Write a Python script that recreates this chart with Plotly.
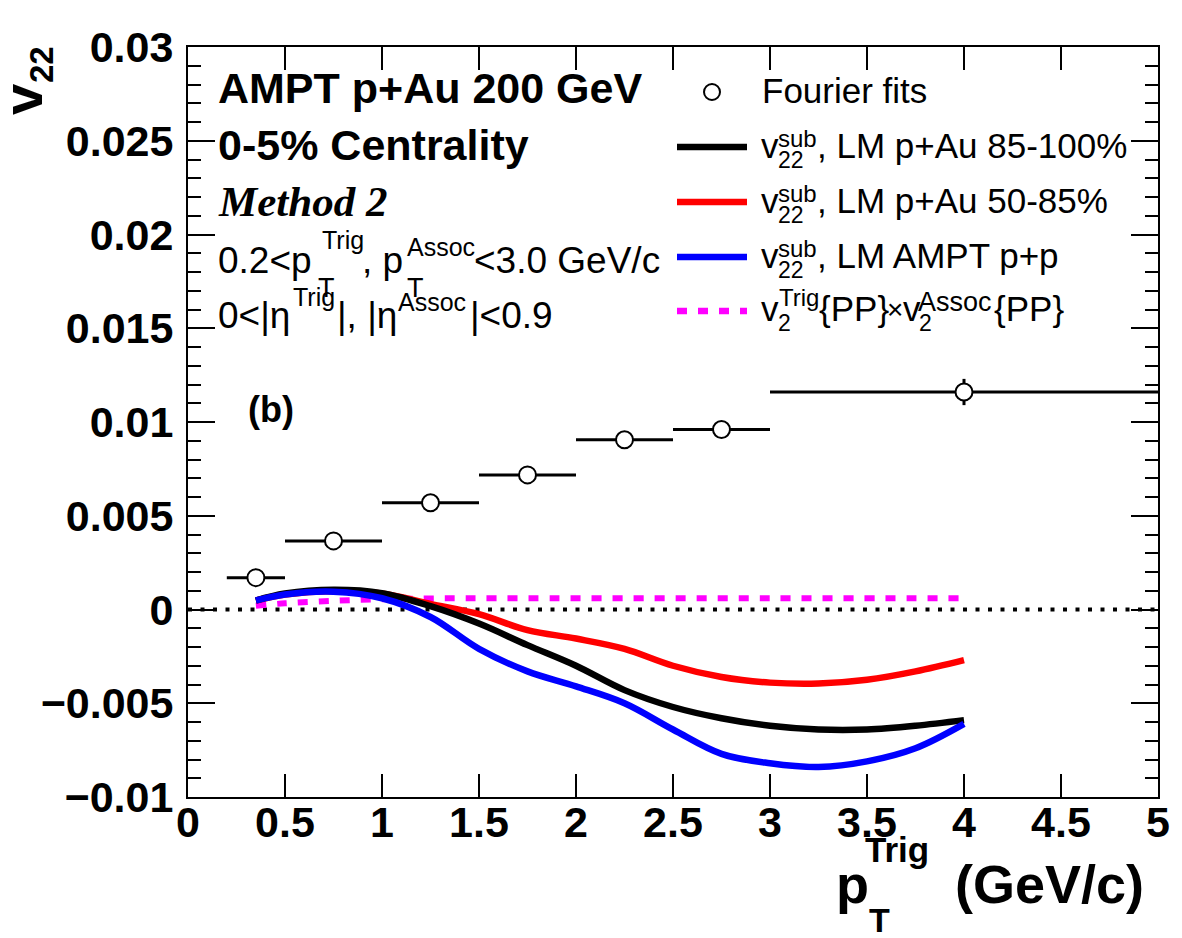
import plotly.graph_objects as go

# ---------------- data ----------------
fit_x = [0.35, 0.75, 1.25, 1.75, 2.25, 2.75, 4.0]
fit_y = [0.0017, 0.00366, 0.00569, 0.00718, 0.00905, 0.0096, 0.0116]
fit_xlo = [0.2, 0.5, 1.0, 1.5, 2.0, 2.5, 3.0]
fit_xhi = [0.5, 1.0, 1.5, 2.0, 2.5, 3.0, 5.0]
fit_yerr = [0.0, 0.0, 0.0, 0.0, 0.0, 0.0, 0.0007]

curve_x = [0.35, 0.5, 0.75, 1.0, 1.25, 1.5, 1.75, 2.0, 2.25, 2.5, 2.75, 3.0, 3.25, 3.5, 3.75, 4.0]
lm_8500 = [0.00048, 0.00085, 0.00105, 0.00087, 0.00018, -0.00075, -0.0019, -0.0030, -0.0043,
           -0.0052, -0.0058, -0.0062, -0.0064, -0.0064, -0.0062, -0.0059]
lm_5085 = [0.00048, 0.0008, 0.00099, 0.00085, 0.0003, -0.00025, -0.0011, -0.00155, -0.0021,
           -0.0030, -0.0036, -0.0039, -0.00395, -0.00375, -0.0033, -0.0027]
lm_pp = [0.00048, 0.0008, 0.00095, 0.0006, -0.0004, -0.0021, -0.0033, -0.0041, -0.0050,
         -0.0064, -0.0077, -0.0082, -0.0084, -0.0081, -0.0074, -0.0061]
pp_x = [0.35, 0.5, 0.75, 1.0, 1.25, 1.5, 2.0, 3.0, 4.0]
pp_y = [0.0002, 0.00033, 0.00046, 0.00055, 0.00059, 0.0006, 0.0006, 0.0006, 0.0006]
zero_x = [0, 5]
zero_y = [0, 0]

x_tickvals = [0, 0.5, 1, 1.5, 2, 2.5, 3, 3.5, 4, 4.5, 5]
x_ticktext = ["0", "0.5", "1", "1.5", "2", "2.5", "3", "3.5", "4", "4.5", "5"]
y_tickvals = [-0.01, -0.005, 0, 0.005, 0.01, 0.015, 0.02, 0.025, 0.03]
y_ticktext = ["\u22120.01", "\u22120.005", "0", "0.005", "0.01", "0.015", "0.02", "0.025", "0.03"]

# ---------------- figure ----------------
W, H = 1182, 938
L, R, T, B = 188, 1158, 47, 797
SANS = "Liberation Sans"
SERIF = "Liberation Serif"

fig = go.Figure()

fig.add_trace(go.Scatter(x=zero_x, y=zero_y, mode="lines",
                         line=dict(color="black", width=4, dash="4px,8.5px"), hoverinfo="skip"))
fig.add_trace(go.Scatter(x=pp_x, y=pp_y, mode="lines", line_shape="spline",
                         line=dict(color="#ff00ff", width=6, dash="10px,11px")))
fig.add_trace(go.Scatter(x=curve_x, y=lm_5085, mode="lines", line_shape="spline",
                         line=dict(color="#ff0000", width=6.5)))
fig.add_trace(go.Scatter(x=curve_x, y=lm_8500, mode="lines", line_shape="spline",
                         line=dict(color="black", width=6.5)))
fig.add_trace(go.Scatter(x=curve_x, y=lm_pp, mode="lines", line_shape="spline",
                         line=dict(color="#0000ff", width=6.5)))

fig.add_trace(go.Scatter(
    x=fit_x, y=fit_y, mode="markers",
    marker=dict(symbol="circle", size=17, color="white", line=dict(color="black", width=2)),
    error_x=dict(type="data", symmetric=False,
                 array=[h - c for h, c in zip(fit_xhi, fit_x)],
                 arrayminus=[c - l for l, c in zip(fit_xlo, fit_x)],
                 color="black", thickness=3, width=0),
    error_y=dict(type="data", array=fit_yerr, color="black", thickness=3, width=0),
))


def pxx(x):
    return (x - L) / (R - L)


def pxy(y):
    return (B - y) / (B - T)


ann = []


def txt(s, x, base, size, family=SANS, bold=False, italic=False, angle=0, xanchor="left"):
    ann.append(dict(text=s, x=pxx(x), y=pxy(base - 0.35 * size), xref="paper", yref="paper",
                    xanchor=xanchor, yanchor="middle", showarrow=False, textangle=angle,
                    font=dict(family=family, size=size, color="black",
                              weight="bold" if bold else "normal",
                              style="italic" if italic else "normal")))


# top-left block
txt("AMPT p+Au 200 GeV", 216, 103, 43, bold=True)
txt("0-5% Centrality", 216, 160, 43, bold=True)
txt("Method 2", 216, 217, 43, family=SERIF, bold=True, italic=True)

txt("0.2<p", 216, 273, 37)
txt("Trig", 320, 249, 25)
txt("T", 316, 297, 27)
txt(", p", 360, 273, 37)
txt("Assoc", 405, 256, 25)
txt("T", 405, 297, 27)
txt("<3.0 GeV/c", 472, 273, 37)

txt("0<|\u03b7", 216, 328, 37)
txt("Trig", 291, 306, 25)
txt("|, |\u03b7", 335, 328, 37)
txt("Assoc", 396, 311, 25)
txt("|<0.9", 468, 328, 37)

txt("(b)", 246, 422, 36, bold=True)

# legend
txt("Fourier fits", 760, 103, 35)
leg = [("black", 158, ", LM p+Au 85-100%"),
       ("#ff0000", 213, ", LM p+Au 50-85%"),
       ("#0000ff", 268, ", LM AMPT p+p")]
for col, base, label in leg:
    txt("v", 759, base, 35)
    txt("sub", 776, base - 11, 24)
    txt("22", 776, base + 10, 23)
    txt(label, 815, base, 35)
base5 = 321
txt("v", 759, base5, 35)
txt("Trig", 777, base5 - 15, 24)
txt("2", 776, base5 + 10, 23)
txt("{PP}", 817, base5, 35)
txt("\u00d7", 885, base5 - 2, 28)
txt("v", 901, base5, 35)
txt("Assoc", 916, base5 - 10, 27)
txt("2", 917, base5 + 10, 23)
txt("{PP}", 992, base5, 35)

# axis titles
ann.append(dict(text="v", x=pxx(22), y=pxy(100), xref="paper", yref="paper", xanchor="center",
                yanchor="middle", showarrow=False, textangle=-90,
                font=dict(family=SANS, size=56, color="black", weight="bold")))
ann.append(dict(text="22", x=pxx(41), y=pxy(65), xref="paper", yref="paper", xanchor="center",
                yanchor="middle", showarrow=False, textangle=-90,
                font=dict(family=SANS, size=33, color="black", weight="bold")))
txt("p", 834, 903, 54, bold=True)
txt("Trig", 863, 862, 35, bold=True)
txt("T", 867, 932, 34, bold=True)
txt("(GeV/c)", 953, 903, 54, bold=True)

shapes = []
shapes.append(dict(type="circle", xref="paper", yref="paper",
                   x0=pxx(704), x1=pxx(720), y0=pxy(100), y1=pxy(84),
                   line=dict(color="black", width=2), fillcolor="white"))
for col, yy, dash in [("black", 147, "solid"), ("#ff0000", 202, "solid"),
                      ("#0000ff", 257, "solid"), ("#ff00ff", 311, "10px,11px")]:
    shapes.append(dict(type="line", xref="paper", yref="paper",
                       x0=pxx(677), x1=pxx(747), y0=pxy(yy), y1=pxy(yy),
                       line=dict(color=col, width=6.5, dash=dash)))

fig.update_layout(
    width=W, height=H,
    margin=dict(l=L, r=W - R, t=T, b=H - B, pad=0),
    paper_bgcolor="white", plot_bgcolor="white",
    showlegend=False,
    annotations=ann, shapes=shapes,
    xaxis=dict(range=[0, 5], tickmode="array", tickvals=x_tickvals, ticktext=x_ticktext,
               ticks="inside", ticklen=23, tickwidth=2, tickcolor="black",
               showline=True, linewidth=2, linecolor="black", mirror="allticks",
               showgrid=False, zeroline=False, ticklabelstandoff=-14,
               tickfont=dict(family=SANS, size=43, color="black", weight="bold")),
    yaxis=dict(range=[-0.01, 0.03], tickmode="array", tickvals=y_tickvals, ticktext=y_ticktext,
               ticks="inside", ticklen=27, tickwidth=2, tickcolor="black",
               minor=dict(ticks="inside", ticklen=13, tickwidth=2, tickcolor="black",
                          tick0=-0.01, dtick=0.001),
               showline=True, linewidth=2, linecolor="black", mirror="allticks",
               showgrid=False, zeroline=False, ticklabelstandoff=4,
               tickfont=dict(family=SANS, size=43, color="black", weight="bold")),
)

fig.write_html("out.html")
